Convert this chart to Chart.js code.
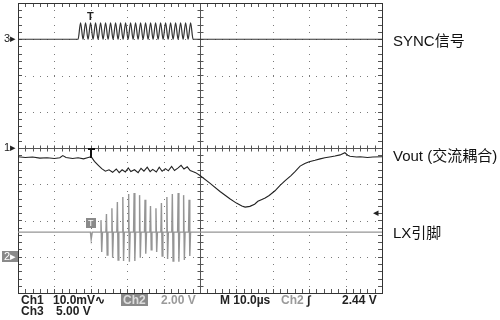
<!DOCTYPE html>
<html>
<head>
<meta charset="utf-8">
<script src="https://cdn.jsdelivr.net/npm/chart.js@4"></script>
<style>
  body { margin: 0; background: #fff; }
  #wrap { position: relative; width: 500px; height: 320px; overflow: hidden; background: #fff; }
  canvas { position: absolute; left: 0; top: 0; }
  .t { position: absolute; white-space: nowrap; font-family: "Liberation Sans", Arial, sans-serif; }
  .ro { font-size: 12px; font-weight: bold; color: #222; line-height: 12px; }
  .gr { color: #9a9a9a; }
  .lab { font-family: "Liberation Sans", "Noto Sans CJK SC", sans-serif; font-size: 15px; color: #111; line-height: 16px; }
  .mk { font-size: 11px; color: #222; line-height: 11px; }
  .box { background: #8a8a8a; color: #fff; padding: 0 2px; }
</style>
</head>
<body>
<div id="wrap">
  <canvas id="scope" width="500" height="320"></canvas>

  <div class="t mk" style="left:4px; top:33px;">3&#9656;</div>
  <div class="t mk" style="left:4px; top:142px;">1&#9656;</div>
  <div class="t mk box" style="left:2px; top:251px;">2&#9656;</div>
  <div class="t mk" style="left:87px; top:11px; font-weight:bold;">T</div>
  <div class="t mk box" style="left:86px; top:218px; font-size:9px; line-height:10px;">T</div>
  <div class="t mk gr" style="left:373px; top:207px;">&#9666;</div>

  <div class="t lab" style="left:393px; top:33px;">SYNC信号</div>
  <div class="t lab" style="left:393px; top:148px;">Vout (交流耦合)</div>
  <div class="t lab" style="left:393px; top:225px;">LX引脚</div>

  <div class="t ro" style="left:21px; top:294px;">Ch1</div>
  <div class="t ro" style="left:53px; top:294px;">10.0mV&#8767;</div>
  <div class="t ro box" style="left:121px; top:294px; color:#ddd;">Ch2</div>
  <div class="t ro gr" style="left:161px; top:294px;">2.00 V</div>
  <div class="t ro" style="left:220px; top:294px;">M 10.0µs</div>
  <div class="t ro gr" style="left:281px; top:294px;">Ch2</div>
  <div class="t ro" style="left:307px; top:294px;">&#8747;</div>
  <div class="t ro" style="left:342px; top:294px;">2.44 V</div>
  <div class="t ro" style="left:21px; top:305px;">Ch3</div>
  <div class="t ro" style="left:56px; top:305px;">5.00 V</div>
</div>
<script>
// time in µs (10 µs/div), voltage in screen divisions
const syncStart = 16.5
const syncEnd = 48.1
const syncLow = 3.0
const syncHigh = 3.45
const syncPeakT = [17.19, 18.56, 19.94, 21.31, 22.69, 24.06, 25.43, 26.81, 28.18, 29.56, 30.93, 32.30,
  33.68, 35.05, 36.43, 37.80, 39.18, 40.55, 41.92, 43.30, 44.67, 46.05, 47.42];
const syncTroughT = [17.87, 19.25, 20.62, 22.00, 23.37, 24.75, 26.12, 27.49, 28.87, 30.24, 31.62,
  32.99, 34.36, 35.74, 37.11, 38.49, 39.86, 41.24, 42.61, 43.98, 45.36, 46.73];

const voutT = [0, 2, 4, 6, 8, 10, 11.5, 12.3, 13.2, 15, 16.5, 18, 19.3, 20.1,
  21, 22, 23, 24, 25, 26, 27, 27.8, 28.6, 29.5, 30.3, 31, 32, 33, 33.8, 34.6, 35.5, 36.3, 37, 38,
  38.8, 39.6, 40.5, 41.3, 42.2, 43, 44, 44.8, 45.6, 46.5, 47.3, 48, 48.8,
  50, 52.7, 55.5, 58.2, 60, 61.5, 62.4, 63.7, 65, 65.9, 67, 67.9, 69, 70.6, 72, 73.4, 75, 76.1,
  77.5, 78.8, 80, 81.6, 83, 84.3, 86, 87.1, 88.5, 89.8, 90.6, 91.2, 93, 94, 96, 97.5, 100];
const voutV = [-0.24, -0.26, -0.25, -0.28, -0.27, -0.29, -0.27, -0.21, -0.26, -0.29, -0.27, -0.30, -0.26, -0.24,
  -0.37, -0.47, -0.57, -0.64, -0.60, -0.67, -0.58, -0.68, -0.60, -0.66, -0.55, -0.65, -0.60, -0.68, -0.56,
  -0.64, -0.53, -0.65, -0.59, -0.66, -0.53, -0.64, -0.57, -0.63, -0.51, -0.62, -0.55, -0.48, -0.58, -0.52,
  -0.62, -0.65, -0.68,
  -0.76, -0.97, -1.20, -1.40, -1.52, -1.60, -1.63, -1.61, -1.55, -1.47, -1.42, -1.38, -1.31, -1.18, -1.03,
  -0.90, -0.76, -0.65, -0.50, -0.43, -0.38, -0.34, -0.30, -0.27, -0.24, -0.22, -0.19, -0.13, -0.20, -0.23,
  -0.25, -0.24, -0.26, -0.25, -0.24];

const lxBase = -2.32
const lxSpikeT = [22.8, 24.3, 25.8, 27.3, 28.8, 30.4, 31.9, 33.4, 34.9, 36.4, 37.9, 39.4, 40.9, 42.4, 44.0, 45.5, 47.0];
const lxTop = [-1.99, -1.82, -1.66, -1.49, -1.35, -1.27, -1.24, -1.30, -1.43, -1.60, -1.66, -1.52, -1.35, -1.27, -1.24, -1.30, -1.43];
const lxBottom = [-2.87, -2.95, -3.03, -3.09, -3.12, -3.14, -3.12, -3.03, -2.92, -2.81, -2.87, -2.98, -3.06, -3.12, -3.14, -3.09, -2.98];
const trigT = 20.1

// build traces
let sync = [{x: 0, y: syncLow}, {x: syncStart, y: syncLow}]
for (let i = 0; i < syncPeakT.length; i++) {
  sync.push({x: syncPeakT[i], y: syncHigh})
  if (i < syncTroughT.length) sync.push({x: syncTroughT[i], y: syncLow})
}
sync.push({x: syncEnd, y: syncLow}, {x: 100, y: syncLow})

let vout = voutT.map((t, i) => ({x: t, y: voutV[i]}))

let lx = [{x: 0, y: lxBase}, {x: trigT - 0.2, y: lxBase}, {x: trigT, y: lxBase - 0.2}, {x: trigT + 0.3, y: lxBase}]
for (let i = 0; i < lxSpikeT.length; i++) {
  let t = lxSpikeT[i]
  lx.push({x: t - 0.15, y: lxBase}, {x: t, y: lxTop[i]}, {x: t + 0.2, y: lxBottom[i]}, {x: t + 0.4, y: lxBase})
}
lx.push({x: 100, y: lxBase})

const scopeGrid = {
  id: 'scopeGrid',
  beforeDatasetsDraw(chart) {
    const ctx = chart.ctx, xs = chart.scales.x, ys = chart.scales.y
    const a = chart.chartArea
    const X = v => Math.round(xs.getPixelForValue(v)) + 0.5
    const Y = v => Math.round(ys.getPixelForValue(v)) + 0.5
    ctx.save()
    // dotted graticule
    ctx.fillStyle = '#7a7a7a'
    for (let t = 10; t < 100; t += 10) {
      if (t == 50) continue
      for (let v = -4; v <= 4.001; v += 0.2) ctx.fillRect(X(t) - 0.5, Y(v) - 0.5, 1, 1)
    }
    for (let v = -3; v <= 3; v++) {
      if (v == 0) continue
      for (let t = 0; t <= 100.001; t += 2) ctx.fillRect(X(t) - 0.5, Y(v) - 0.5, 1, 1)
    }
    // center lines with ticks
    ctx.strokeStyle = '#555'
    ctx.lineWidth = 1
    ctx.beginPath()
    ctx.moveTo(X(50), a.top); ctx.lineTo(X(50), a.bottom)
    ctx.moveTo(a.left, Y(0)); ctx.lineTo(a.right, Y(0))
    for (let v = -4; v <= 4.001; v += 0.2) {
      ctx.moveTo(X(50) - 3, Y(v)); ctx.lineTo(X(50) + 3, Y(v))
      ctx.moveTo(a.right - 4, Y(v)); ctx.lineTo(a.right, Y(v))
      ctx.moveTo(a.left, Y(v)); ctx.lineTo(a.left + 4, Y(v))
    }
    for (let t = 0; t <= 100.001; t += 2) {
      ctx.moveTo(X(t), Y(0) - 3); ctx.lineTo(X(t), Y(0) + 3)
      ctx.moveTo(X(t), a.top); ctx.lineTo(X(t), a.top + 4)
      ctx.moveTo(X(t), a.bottom - 4); ctx.lineTo(X(t), a.bottom)
    }
    ctx.stroke()
    // frame
    ctx.strokeStyle = '#333'
    ctx.strokeRect(X(0), Y(4), X(100) - X(0), Y(-4) - Y(4))
    ctx.restore()
  },
  afterDatasetsDraw(chart) {
    // trigger mark on Vout
    const ctx = chart.ctx, xs = chart.scales.x, ys = chart.scales.y
    const px = Math.round(xs.getPixelForValue(trigT)), py = Math.round(ys.getPixelForValue(0))
    ctx.save()
    ctx.fillStyle = '#111'
    ctx.fillRect(px - 3, py, 7, 2)
    ctx.fillRect(px - 1, py, 2, 10)
    ctx.restore()
  }
}

new Chart(document.getElementById('scope'), {
  type: 'line',
  data: {
    datasets: [
      { label: 'LX', data: lx, borderColor: '#959595', borderWidth: 1.4, pointRadius: 0, tension: 0 },
      { label: 'SYNC', data: sync, borderColor: '#333', borderWidth: 1.2, pointRadius: 0, cubicInterpolationMode: 'monotone' },
      { label: 'Vout', data: vout, borderColor: '#222', borderWidth: 1.1, pointRadius: 0, tension: 0 }
    ]
  },
  options: {
    responsive: false,
    animation: false,
    events: [],
    layout: { padding: { left: 18, top: 3, right: 118, bottom: 27 } },
    plugins: { legend: { display: false }, tooltip: { enabled: false } },
    scales: {
      x: { type: 'linear', min: 0, max: 100, display: false },
      y: { min: -4, max: 4, display: false }
    }
  },
  plugins: [scopeGrid]
});
</script>
</body>
</html>
